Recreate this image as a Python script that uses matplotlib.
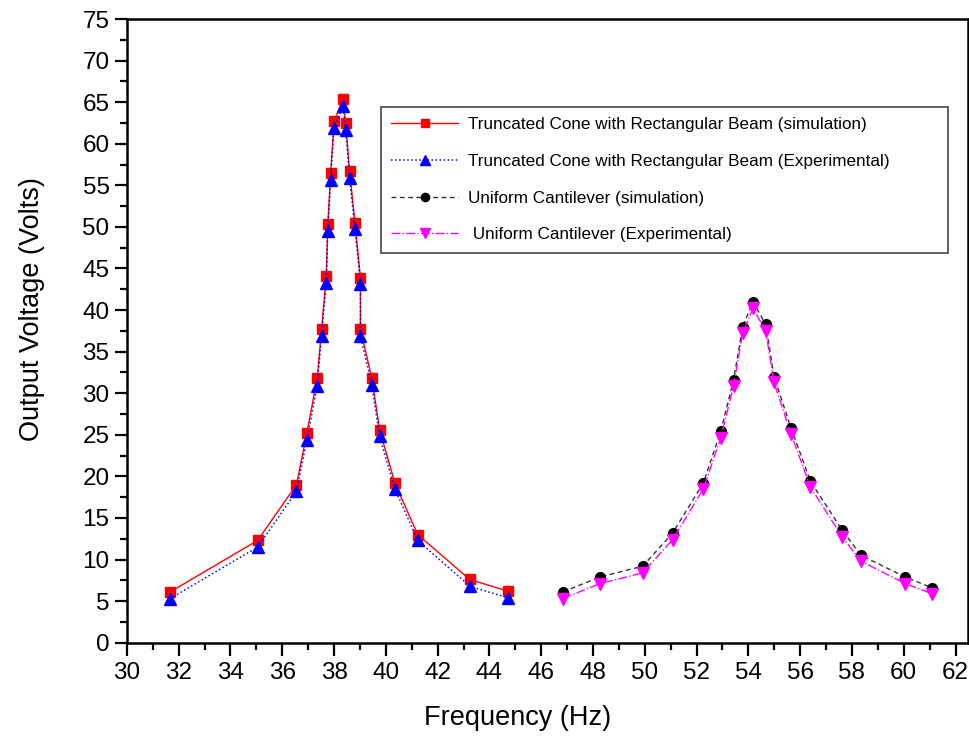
import matplotlib
matplotlib.use("Agg")
import matplotlib.pyplot as plt
from matplotlib.ticker import MultipleLocator

plt.rcParams['font.family'] = ['Liberation Sans', 'DejaVu Sans']

# truncated cone with rectangular beam
cone_freq = [31.67, 35.05, 36.55, 36.95, 37.35, 37.52, 37.70, 37.76, 37.87, 38.00, 38.35,
             38.45, 38.60, 38.81, 39.02, 39.02, 39.46, 39.76, 40.35, 41.23, 43.24, 44.71]
cone_sim = [6.1, 12.3, 19.0, 25.2, 31.8, 37.7, 44.1, 50.3, 56.5, 62.7, 65.4,
            62.5, 56.7, 50.5, 43.9, 37.7, 31.8, 25.6, 19.2, 13.0, 7.6, 6.2]
cone_exp = [5.3, 11.5, 18.2, 24.4, 30.9, 36.9, 43.3, 49.5, 55.7, 61.9, 64.6,
            61.7, 55.9, 49.7, 43.1, 36.9, 31.0, 24.8, 18.5, 12.3, 6.8, 5.4]

# uniform cantilever
unif_freq = [46.84, 48.26, 49.92, 51.08, 52.26, 52.93, 53.43, 53.78, 54.18,
             54.67, 54.99, 55.65, 56.40, 57.63, 58.35, 60.06, 61.09]
unif_sim = [6.1, 7.9, 9.2, 13.2, 19.2, 25.4, 31.6, 38.0, 41.0,
            38.3, 32.0, 25.8, 19.4, 13.5, 10.5, 7.9, 6.6]
unif_exp = [5.3, 7.1, 8.4, 12.4, 18.5, 24.6, 30.9, 37.3, 40.2,
            37.5, 31.3, 25.1, 18.7, 12.7, 9.8, 7.1, 5.9]

labels = ["Truncated Cone with Rectangular Beam (simulation)",
          "Truncated Cone with Rectangular Beam (Experimental)",
          "Uniform Cantilever (simulation)",
          " Uniform Cantilever (Experimental)"]

fig = plt.figure(figsize=(9.7, 7.43), dpi=100)
ax = fig.add_axes([0.1308, 0.135, 0.8668, 0.8394])

ax.plot(cone_freq, cone_sim, color='red', linestyle='-', linewidth=1.0,
        marker='s', markersize=6.5, label=labels[0])
ax.plot(cone_freq, cone_exp, color='blue', linestyle=':', linewidth=1.1,
        marker='^', markersize=8, label=labels[1])
ax.plot(unif_freq, unif_sim, color='#333333', linestyle=(0, (3.5, 2.5)), linewidth=1.0,
        marker='o', markersize=7, markerfacecolor='black', markeredgecolor='black',
        label=labels[2])
ax.plot(unif_freq, unif_exp, color='magenta', linestyle='-.', linewidth=1.0,
        marker='v', markersize=8, label=labels[3])

ax.set_xlim(30, 62.47)
ax.set_ylim(0, 75)
ax.xaxis.set_major_locator(MultipleLocator(2))
ax.xaxis.set_minor_locator(MultipleLocator(1))
ax.yaxis.set_major_locator(MultipleLocator(5))
ax.yaxis.set_minor_locator(MultipleLocator(2.5))

ax.tick_params(which='major', direction='out', length=9, width=1.6, labelsize=17.5,
               top=False, right=False)
ax.tick_params(which='minor', direction='out', length=5, width=1.6,
               top=False, right=False)
ax.tick_params(axis='x', which='major', pad=5)
for sp in ax.spines.values():
    sp.set_linewidth(1.8)

ax.set_xlabel("Frequency (Hz)", fontsize=19.5)
ax.set_ylabel("Output Voltage (Volts)", fontsize=19.5)
ax.xaxis.set_label_coords(0.465, -0.1)
ax.yaxis.set_label_coords(-0.097, 0.535)

leg = ax.legend(loc='upper left', bbox_to_anchor=(0.3022, 0.0, 0.6744, 0.8589),
                mode='expand', borderaxespad=0,
                fontsize=12.3, fancybox=False, framealpha=1, edgecolor='#555555',
                handlelength=3.9, handletextpad=0.6, labelspacing=1.27,
                borderpad=0.6, markerscale=0.85)
leg.get_frame().set_linewidth(1.3)

fig.savefig("out.png", dpi=100)
